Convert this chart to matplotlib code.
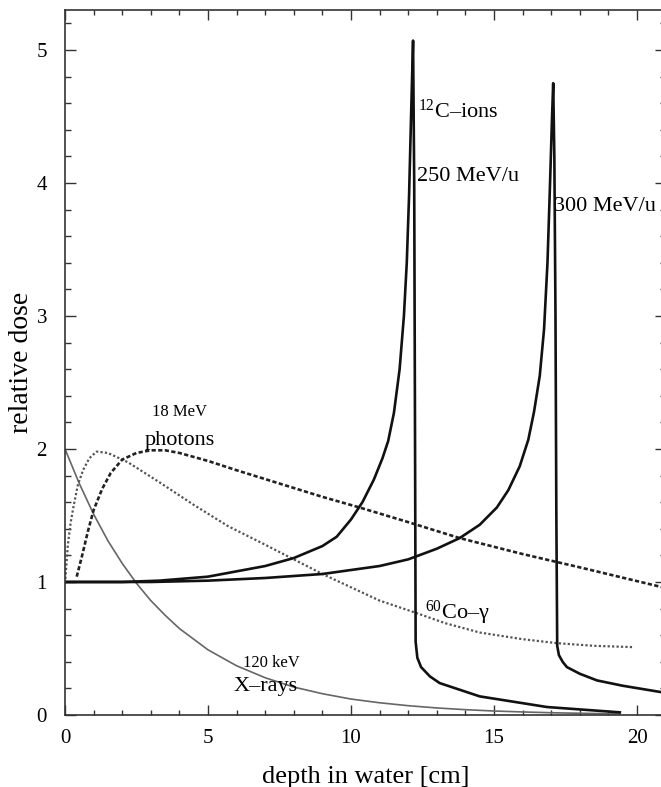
import matplotlib
matplotlib.use("Agg")
import matplotlib.pyplot as plt
from matplotlib.ticker import MultipleLocator

plt.rcParams['font.family'] = ['Liberation Serif', 'DejaVu Serif']
plt.rcParams['mathtext.fontset'] = 'custom'
plt.rcParams['mathtext.rm'] = 'Liberation Serif'
plt.rcParams['mathtext.it'] = 'Liberation Serif:italic'

# 120 keV X-rays
xray_x = [0, 0.5, 1, 1.5, 2, 2.5, 3, 3.5, 4, 4.5, 5, 5.5, 6, 7, 8, 9, 10, 11,
          12, 13, 14, 15, 16, 17, 18, 19, 19.4]
xray_y = [2.00, 1.74, 1.51, 1.31, 1.14, 0.99, 0.86, 0.75, 0.65, 0.57, 0.49,
          0.43, 0.37, 0.28, 0.21, 0.16, 0.12, 0.092, 0.070, 0.053, 0.040,
          0.030, 0.023, 0.017, 0.013, 0.010, 0.009]

# 60Co gamma
co_x = [0, 0.1, 0.2, 0.3, 0.45, 0.63, 0.85, 1.1, 1.5, 2.2, 3.3, 4.5, 5.7,
        7.0, 8.0, 9.0, 10.3, 11.0, 12.24, 13.3, 14.5, 16.0, 17.2, 18.5, 19.9]
co_y = [0.99, 1.28, 1.45, 1.57, 1.73, 1.84, 1.93, 1.98, 1.97, 1.90, 1.75,
        1.58, 1.42, 1.28, 1.17, 1.06, 0.93, 0.86, 0.77, 0.69, 0.62, 0.57,
        0.54, 0.52, 0.51]

# 18 MeV photons
ph_x = [0.41, 0.6, 0.8, 1.0, 1.3, 1.6, 2.0, 2.5, 3.0, 3.5, 4.0, 4.5, 5.0,
        6.0, 7.5, 9.0, 10.3, 12.0, 13.8, 16.0, 18.0, 20.9]
ph_y = [1.04, 1.20, 1.38, 1.54, 1.70, 1.82, 1.92, 1.97, 1.99, 1.99, 1.97,
        1.94, 1.91, 1.84, 1.74, 1.64, 1.56, 1.45, 1.33, 1.21, 1.11, 0.96]

# 12C ions 250 MeV/u
c250_x = [0, 2, 3.3, 5, 6, 7, 8, 9, 9.5, 10.0, 10.4, 10.8, 11.1, 11.3, 11.5,
          11.7, 11.85, 11.95, 12.03, 12.1, 12.17, 12.21, 12.24, 12.26, 12.32,
          12.45, 12.76, 13.1, 14.5, 16.85, 19.4]
c250_y = [1.0, 1.0, 1.01, 1.04, 1.08, 1.12, 1.18, 1.27, 1.34, 1.47, 1.60,
          1.77, 1.93, 2.06, 2.27, 2.60, 3.00, 3.40, 3.90, 4.50, 5.07, 4.0,
          2.0, 0.55, 0.43, 0.36, 0.29, 0.24, 0.14, 0.06, 0.02]

# 12C ions 300 MeV/u
c300_x = [0, 3, 5, 7, 8, 9, 10, 11, 12, 13, 13.8, 14.5, 15.1, 15.5, 15.9,
          16.2, 16.4, 16.6, 16.75, 16.87, 16.96, 17.03, 17.07, 17.11, 17.15,
          17.18, 17.21, 17.27, 17.4, 17.55, 18.0, 18.6, 19.5, 20.9]
c300_y = [1.0, 1.0, 1.01, 1.03, 1.045, 1.06, 1.09, 1.12, 1.17, 1.25, 1.33,
          1.43, 1.56, 1.69, 1.87, 2.07, 2.28, 2.55, 2.90, 3.40, 4.00, 4.50,
          4.75, 4.2, 3.0, 1.5, 0.52, 0.45, 0.40, 0.36, 0.31, 0.26, 0.22, 0.17]

W, H = 661, 787
fig = plt.figure(figsize=(W / 100, H / 100), dpi=100)
ax = fig.add_axes([65 / W, (H - 715) / H, 21 * 28.6 / W, 705 / H])

ax.plot(xray_x, xray_y, color='#666666', lw=1.2, solid_joinstyle='round')
ax.plot(co_x, co_y, color='#555555', lw=1.6, linestyle=(0, (1, 1)))
ax.plot(ph_x, ph_y, color='#222222', lw=1.9, linestyle=(0, (1.6, 0.9)))
ax.plot(c250_x, c250_y, color='#111111', lw=1.9, solid_joinstyle='round')
ax.plot(c300_x, c300_y, color='#111111', lw=1.9, solid_joinstyle='round')

ax.set_xlim(0, 21)
ax.set_ylim(0, 5.3)
ax.xaxis.set_major_locator(MultipleLocator(5))
ax.xaxis.set_minor_locator(MultipleLocator(1))
ax.yaxis.set_major_locator(MultipleLocator(1))
ax.yaxis.set_minor_locator(MultipleLocator(0.2))
ax.tick_params(which='both', direction='in', top=True, right=True,
               color='#333333', width=1.0, labelsize=15)
ax.tick_params(axis='x', which='major', length=7, pad=10)
ax.tick_params(axis='x', which='minor', length=3.5)
ax.tick_params(axis='y', which='major', length=8, pad=13)
ax.tick_params(axis='y', which='minor', length=4)
for s in ax.spines.values():
    s.set_color('#333333')
    s.set_linewidth(1.2)

ax.set_xlabel('depth in water [cm]', fontsize=19, labelpad=13)
ax.set_ylabel('relative dose', fontsize=20, labelpad=2)

ax.text(4.0, 2.22, '18 MeV', fontsize=12, ha='center', va='bottom')
ax.text(4.0, 1.99, 'photons', fontsize=16, ha='center', va='bottom')
ax.text(12.35, 4.45, r'$^{12}$C–ions', fontsize=16, ha='left', va='bottom')
ax.text(12.3, 3.98, '250 MeV/u', fontsize=16, ha='left', va='bottom')
ax.text(17.1, 3.75, '300 MeV/u', fontsize=16, ha='left', va='bottom')
ax.text(12.6, 0.66, r'$^{60}$Co–γ', fontsize=16, ha='left', va='bottom')
ax.text(7.2, 0.33, '120 keV', fontsize=12, ha='center', va='bottom')
ax.text(7.0, 0.14, 'X–rays', fontsize=16, ha='center', va='bottom')

fig.savefig('out.png', dpi=100)
